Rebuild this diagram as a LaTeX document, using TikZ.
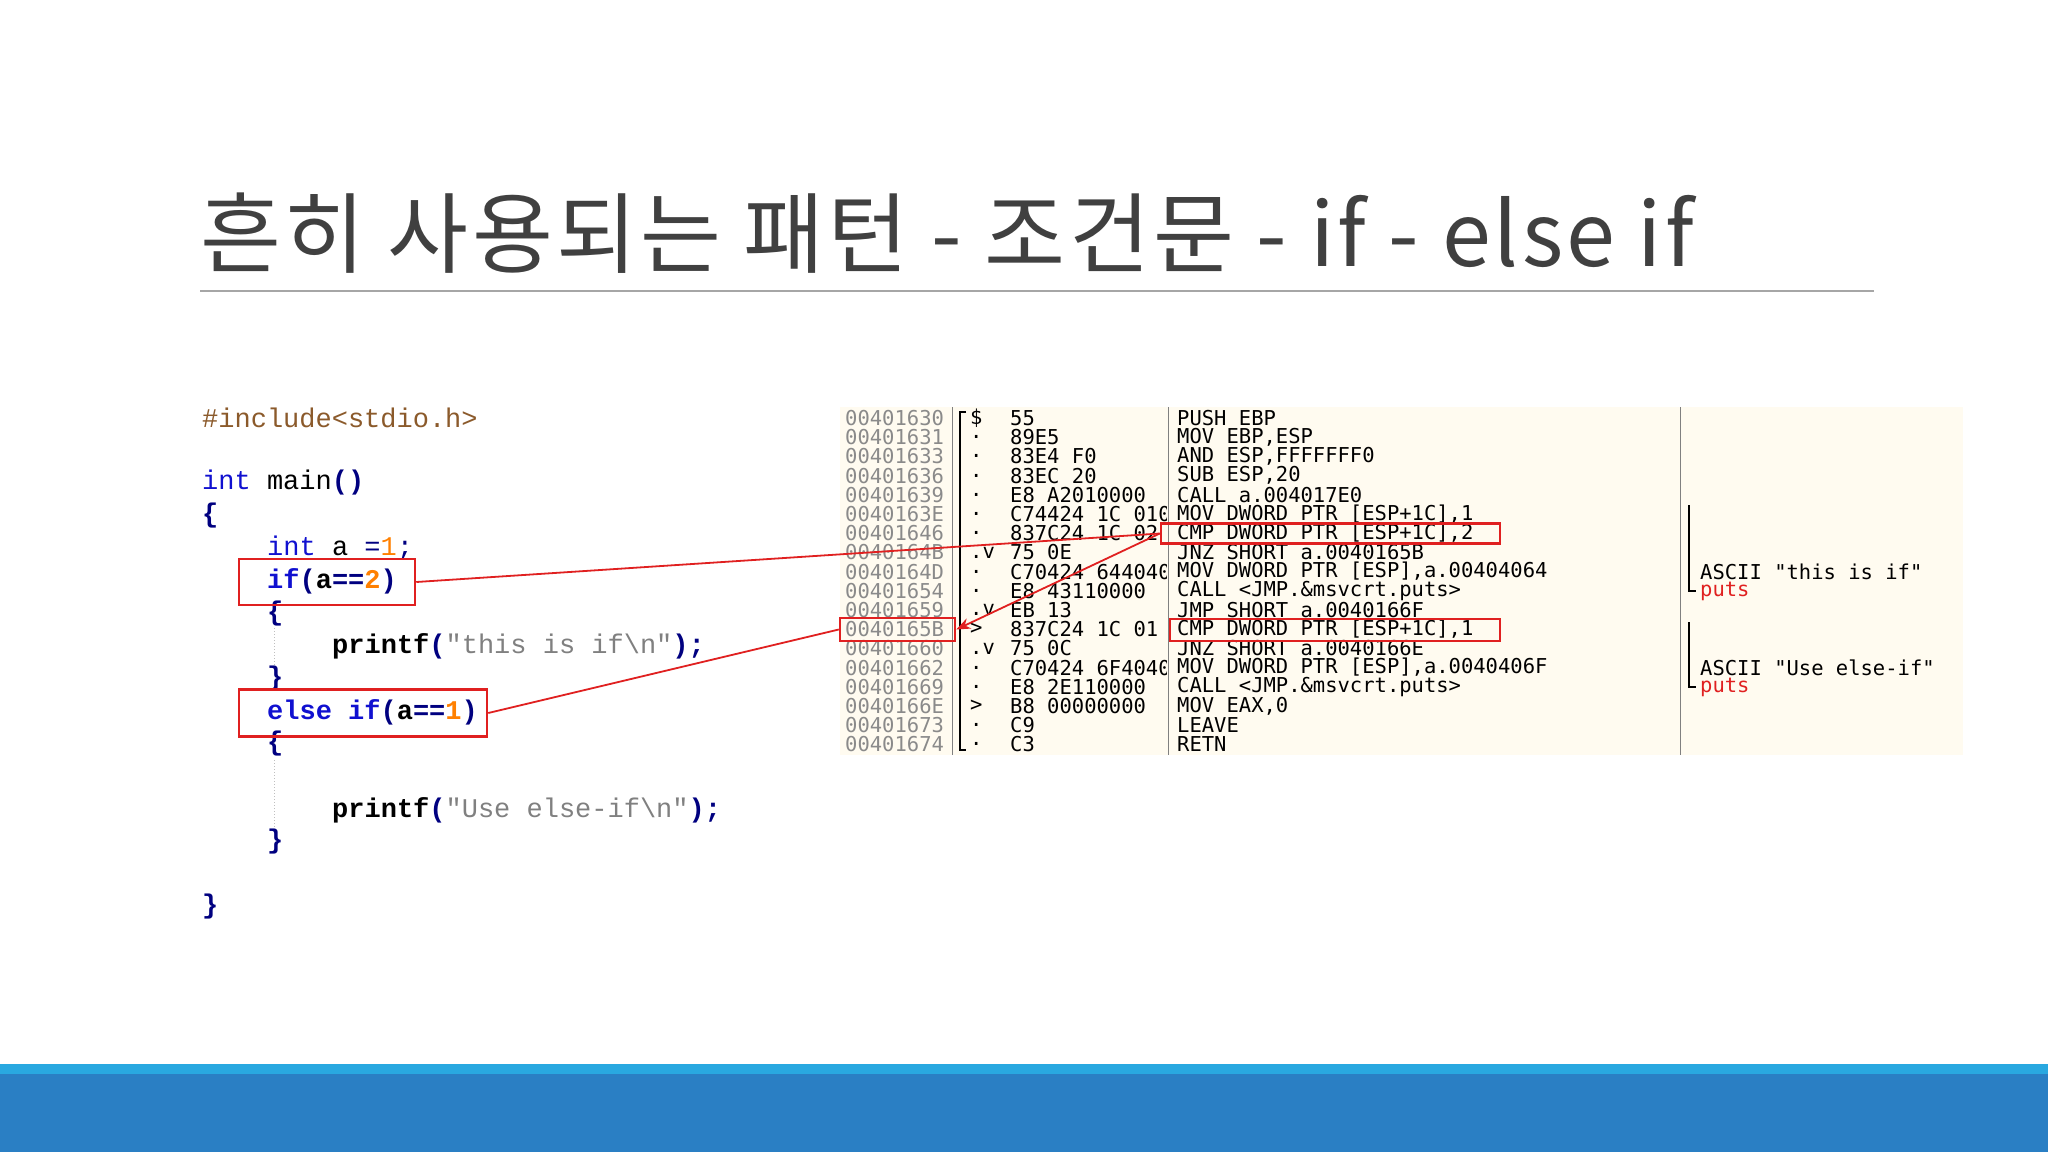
\documentclass[tikz,border=0pt]{standalone}
\usepackage{fontspec}
\usetikzlibrary{arrows.meta}
\setmonofont{Liberation Mono}
\newfontfamily\kr[LetterSpace=3.5]{Noto Sans CJK KR}
\newfontfamily\dis{DejaVu Sans Mono}
\definecolor{barA}{HTML}{29A8E0}
\definecolor{barB}{HTML}{2A7FC4}
\definecolor{ttl}{HTML}{404040}
\definecolor{kw}{HTML}{1010D0}
\definecolor{inc}{HTML}{8B5A2B}
\definecolor{str}{HTML}{808080}
\definecolor{num}{HTML}{FF8000}
\definecolor{op}{HTML}{000080}
\definecolor{cream}{HTML}{FFFBF0}
\definecolor{rd}{HTML}{E02020}
\definecolor{addr}{HTML}{8A8A8A}
\begin{document}
\begin{tikzpicture}[x=1pt,y=-1pt,
  code/.style={anchor=west,inner sep=0pt,font=\ttfamily\fontsize{27}{27}\selectfont},
  dl/.style={anchor=west,inner sep=0pt,font=\dis\fontsize{20.5}{20.5}\selectfont},
  rbox/.style={draw=rd,line width=2.5pt},
  rline/.style={draw=rd,line width=1.8pt}]
\useasboundingbox (0,0) rectangle (2048,1152);
\fill[white] (0,0) rectangle (2048,1152);
\fill[barA] (0,1064) rectangle (2048,1074);
\fill[barB] (0,1074) rectangle (2048,1152);
\node[anchor=base west,inner sep=0pt,text=ttl,font=\kr\fontsize{88}{88}\selectfont] (title) at (200,266) {흔히 사용되는 패턴 - 조건문 - if - else if};
\draw[gray!70,line width=1.2pt] (200,291) -- (1874,291);
% code
\draw[gray!50,dotted,line width=1pt] (274,628) -- (274,668);
\draw[gray!50,dotted,line width=1pt] (274,760) -- (274,830);
\node[code,text=inc] (c1) at (202,418) {\#include<stdio.h>};
\node[code] (c2) at (202,483) {\textcolor{kw}{int} main\textcolor{op}{\textbf{()}}};
\node[code,text=op] (c3) at (202,516) {\textbf{\{}};
\node[code] (c4) at (267,548) {\textcolor{kw}{int} a \textcolor{op}{=}\textcolor{num}{1}\textcolor{op}{;}};
\node[code] (c5) at (267,581) {\textbf{\textcolor{kw}{if}\textcolor{op}{(}a\textcolor{op}{==}\textcolor{num}{2}\textcolor{op}{)}}};
\node[code,text=op] (c6) at (267,614) {\textbf{\{}};
\node[code] (c7) at (332,646) {\textbf{printf}\textcolor{op}{\textbf{(}}\textcolor{str}{"this is if\textbackslash n"}\textcolor{op}{\textbf{);}}};
\node[code,text=op] (c8) at (267,679) {\textbf{\}}};
\node[code] (c9) at (267,712) {\textbf{\textcolor{kw}{else} \textcolor{kw}{if}\textcolor{op}{(}a\textcolor{op}{==}\textcolor{num}{1}\textcolor{op}{)}}};
\node[code,text=op] (c10) at (267,744) {\textbf{\{}};
\node[code] (c11) at (332,810) {\textbf{printf}\textcolor{op}{\textbf{(}}\textcolor{str}{"Use else-if\textbackslash n"}\textcolor{op}{\textbf{);}}};
\node[code,text=op] (c12) at (267,842) {\textbf{\}}};
\node[code,text=op] (c13) at (202,907) {\textbf{\}}};
\node[rbox,inner sep=0pt,minimum width=176,minimum height=46] (b1) at (327,582) {};
\node[rbox,inner sep=0pt,minimum width=248,minimum height=47] (b2) at (363,713) {};
% disasm panel
\fill[cream] (840,407) rectangle (1963,755);
\draw[gray,line width=1pt] (952,407) -- (952,755);
\draw[gray,line width=1pt] (1168,407) -- (1168,755);
\draw[gray,line width=1pt] (1680,407) -- (1680,755);
\draw[black,line width=2.5pt] (966,412) -- (960,412) -- (960,750) -- (966,750);
\foreach \i/\a/\m/\h/\d in {
0/00401630/\$/55/PUSH EBP,
1/00401631/./89E5/{MOV EBP,ESP},
2/00401633/./83E4 F0/{AND ESP,FFFFFFF0},
3/00401636/./83EC 20/{SUB ESP,20},
4/00401639/./E8 A2010000/CALL a.004017E0,
5/0040163E/./C74424 1C 01000000/{MOV DWORD PTR [ESP+1C],1},
6/00401646/./837C24 1C 02/{CMP DWORD PTR [ESP+1C],2},
7/0040164B/.v/75 0E/JNZ SHORT a.0040165B,
8/0040164D/./C70424 64404000/{MOV DWORD PTR [ESP],a.00404064},
9/00401654/./E8 43110000/CALL <JMP.\&msvcrt.puts>,
10/00401659/.v/EB 13/JMP SHORT a.0040166F,
11/0040165B/>/837C24 1C 01/{CMP DWORD PTR [ESP+1C],1},
12/00401660/.v/75 0C/JNZ SHORT a.0040166E,
13/00401662/./C70424 6F404000/{MOV DWORD PTR [ESP],a.0040406F},
14/00401669/./E8 2E110000/CALL <JMP.\&msvcrt.puts>,
15/0040166E/>/B8 00000000/{MOV EAX,0},
16/00401673/./C9/LEAVE,
17/00401674/./C3/RETN}{
  \node[dl,text=addr] (a\i) at (845,418+19.2*\i) {\a};
  \node[dl] (m\i) at (970,418+19.2*\i) {\m};
  \begin{scope}
    \clip (1000,400) rectangle (1166,760);
    \node[dl] (h\i) at (1010,418+19.2*\i) {\h};
  \end{scope}
  \node[dl] (d\i) at (1177,418+19.2*\i) {\d};
}
\draw[black,line width=2.5pt] (1689,505) -- (1689,591) -- (1696,591);
\draw[black,line width=2.5pt] (1689,622) -- (1689,687) -- (1696,687);
\node[dl] (t1) at (1700,572) {ASCII "this is if"};
\node[dl,text=rd] (p1) at (1700,591) {puts};
\node[dl] (t2) at (1700,668) {ASCII "Use else-if"};
\node[dl,text=rd] (p2) at (1700,687) {puts};
\node[rbox,inner sep=0pt,minimum width=339,minimum height=20] (r1) at (1330.5,533.5) {};
\node[rbox,inner sep=0pt,minimum width=330,minimum height=22] (r2) at (1335,630) {};
\node[rbox,inner sep=0pt,minimum width=115,minimum height=23] (r3) at (897.5,629.5) {};
% connectors
\draw[rline] (b1.east) -- (r1.west);
\draw[rline] (b2.east) -- (r3.west);
\draw[rline,-{Stealth[length=14pt,width=11pt]}] (r1.west) -- (r3.east);
\end{tikzpicture}
\end{document}
